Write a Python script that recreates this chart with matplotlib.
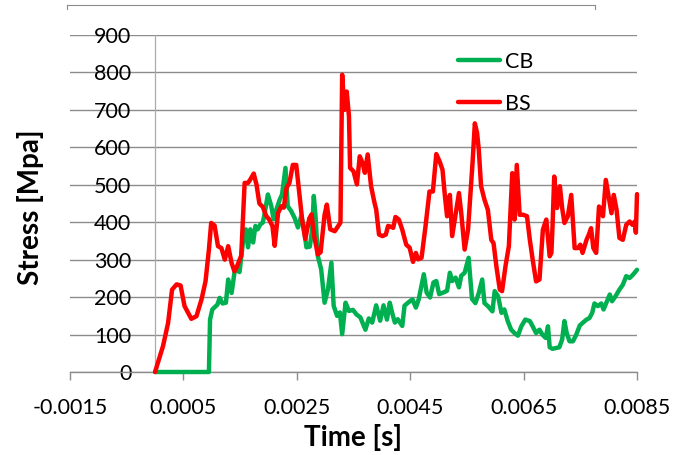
import matplotlib
matplotlib.use('Agg')
import matplotlib.pyplot as plt
from matplotlib.lines import Line2D
import numpy as np

# ---- data (time in ms, stress in MPa) ----
time_cb_ms = [0.00, 0.95, 0.97, 1.01, 1.10, 1.14, 1.19, 1.25, 1.29, 1.35, 1.41, 1.49, 1.55, 1.60,
              1.64, 1.68, 1.73, 1.77, 1.81, 1.86, 1.90, 1.93, 1.99, 2.05, 2.09, 2.14, 2.20, 2.24,
              2.30, 2.34, 2.40, 2.46, 2.52, 2.58, 2.62, 2.67, 2.73, 2.77, 2.80, 2.83, 2.87, 2.93,
              2.99, 3.05, 3.11, 3.15, 3.21, 3.26, 3.30, 3.36, 3.42, 3.49, 3.55, 3.62, 3.71, 3.77,
              3.83, 3.90, 3.97, 4.03, 4.09, 4.14, 4.18, 4.23, 4.28, 4.36, 4.40, 4.46, 4.54, 4.60,
              4.65, 4.74, 4.79, 4.85, 4.91, 4.96, 5.01, 5.08, 5.15, 5.20, 5.24, 5.30, 5.36, 5.40,
              5.46, 5.53, 5.59, 5.65, 5.71, 5.77, 5.81, 5.87, 5.95, 5.99, 6.05, 6.11, 6.16, 6.22,
              6.28, 6.34, 6.40, 6.46, 6.53, 6.61, 6.66, 6.72, 6.78, 6.83, 6.89, 6.93, 6.96, 7.01,
              7.07, 7.13, 7.18, 7.22, 7.26, 7.31, 7.37, 7.43, 7.49, 7.54, 7.61, 7.66, 7.71, 7.75,
              7.81, 7.87, 7.91, 7.97, 8.02, 8.06, 8.12, 8.19, 8.25, 8.31, 8.37, 8.43, 8.50]
stress_cb = [0, 0, 140, 167, 180, 198, 183, 185, 247, 211, 275, 267, 346, 381,
             333, 381, 346, 390, 381, 395, 399, 421, 474, 443, 408, 434, 461, 474,
             545, 443, 430, 412, 386, 417, 390, 333, 335, 380, 470, 416, 310, 274,
             185, 221, 292, 177, 150, 159, 101, 185, 163, 166, 154, 146, 113, 143,
             132, 178, 137, 178, 140, 185, 159, 132, 141, 123, 177, 185, 194, 172,
             194, 261, 212, 199, 239, 243, 208, 212, 217, 265, 243, 252, 226, 257,
             265, 305, 195, 184, 211, 247, 184, 176, 162, 216, 202, 158, 167, 136,
             113, 104, 97, 122, 140, 136, 122, 104, 113, 100, 91, 122, 66, 62,
             64, 66, 87, 136, 104, 82, 82, 100, 124, 131, 140, 144, 158, 183,
             176, 183, 167, 189, 207, 189, 202, 220, 233, 256, 251, 260, 273]

time_bs_ms = [0.00, 0.14, 0.23, 0.30, 0.38, 0.45, 0.52, 0.64, 0.73, 0.82, 0.89, 0.95, 0.99, 1.05,
              1.11, 1.17, 1.23, 1.29, 1.35, 1.40, 1.44, 1.52, 1.58, 1.64, 1.68, 1.74, 1.79, 1.84,
              1.90, 1.96, 2.01, 2.07, 2.11, 2.17, 2.23, 2.27, 2.32, 2.37, 2.43, 2.49, 2.55, 2.60,
              2.65, 2.72, 2.76, 2.81, 2.87, 2.92, 2.99, 3.03, 3.09, 3.17, 3.23, 3.27, 3.30, 3.34,
              3.38, 3.42, 3.44, 3.50, 3.56, 3.61, 3.66, 3.70, 3.75, 3.81, 3.87, 3.90, 3.95, 4.01,
              4.07, 4.11, 4.14, 4.20, 4.24, 4.30, 4.36, 4.43, 4.49, 4.55, 4.60, 4.64, 4.70, 4.77,
              4.84, 4.90, 4.96, 5.02, 5.07, 5.11, 5.15, 5.20, 5.24, 5.30, 5.36, 5.40, 5.46, 5.52,
              5.56, 5.60, 5.64, 5.68, 5.71, 5.75, 5.81, 5.87, 5.93, 5.97, 6.02, 6.08, 6.12, 6.18,
              6.24, 6.30, 6.34, 6.38, 6.43, 6.49, 6.56, 6.61, 6.66, 6.72, 6.78, 6.84, 6.90, 6.96,
              6.99, 7.01, 7.04, 7.09, 7.14, 7.18, 7.22, 7.28, 7.34, 7.40, 7.46, 7.50, 7.54, 7.61,
              7.65, 7.69, 7.73, 7.78, 7.83, 7.87, 7.90, 7.95, 8.01, 8.05, 8.09, 8.14, 8.19, 8.25,
              8.31, 8.37, 8.42, 8.46, 8.48, 8.50]
stress_bs = [0, 69, 131, 220, 234, 231, 176, 142, 149, 194, 242, 327, 398, 391,
             336, 331, 300, 336, 291, 269, 280, 311, 505, 505, 514, 530, 500, 450,
             441, 417, 408, 390, 337, 425, 443, 439, 492, 505, 553, 553, 470, 399,
             355, 410, 421, 360, 314, 320, 420, 447, 381, 376, 390, 399, 794, 700,
             749, 683, 545, 536, 501, 576, 558, 532, 581, 496, 452, 434, 367, 363,
             367, 390, 389, 385, 414, 407, 380, 340, 332, 294, 318, 301, 305, 389,
             482, 482, 582, 562, 540, 473, 416, 473, 363, 420, 478, 425, 327, 380,
             470, 560, 664, 638, 593, 496, 460, 433, 353, 344, 282, 220, 216, 282,
             336, 531, 407, 553, 420, 420, 416, 353, 300, 242, 247, 380, 407, 309,
             318, 389, 522, 438, 496, 438, 398, 416, 473, 331, 331, 340, 318, 353,
             367, 384, 331, 318, 442, 433, 416, 513, 460, 424, 473, 433, 358, 353,
             393, 402, 393, 402, 372, 475]

x_ticks = [-0.0015, 0.0005, 0.0025, 0.0045, 0.0065, 0.0085]
x_tick_labels = ['-0.0015', '0.0005', '0.0025', '0.0045', '0.0065', '0.0085']
y_ticks = [0, 100, 200, 300, 400, 500, 600, 700, 800, 900]

plt.rcParams['font.family'] = ['Lato', 'DejaVu Sans']

W, H = 681, 455
fig = plt.figure(figsize=(W / 100, H / 100), dpi=100)
ax = fig.add_axes([70 / W, (H - 372) / H, 567 / W, 337 / H])

grid_col = '#8C8C8C'
ax.plot(np.array(time_cb_ms) * 1e-3, stress_cb, color='#00B050', lw=3.2,
        label='CB', clip_on=False, solid_joinstyle='round', solid_capstyle='round', zorder=3)
ax.plot(np.array(time_bs_ms) * 1e-3, stress_bs, color='#FF0000', lw=3.2,
        label='BS', clip_on=False, solid_joinstyle='round', solid_capstyle='round', zorder=4)

ax.set_xlim(-0.0015, 0.0085)
ax.set_ylim(0, 900)
ax.set_xticks(x_ticks, x_tick_labels)
ax.set_yticks(y_ticks)
ax.yaxis.grid(True, color=grid_col, lw=1.0)
ax.set_axisbelow(True)

for s in ['top', 'right']:
    ax.spines[s].set_visible(False)
ax.spines['left'].set_position(('data', 0))
ax.spines['left'].set_color('#ABABAB')
ax.spines['left'].set_linewidth(0.9)
ax.spines['bottom'].set_color(grid_col)
ax.spines['bottom'].set_linewidth(1.0)

ax.tick_params(axis='y', length=0, pad=17, labelsize=15.5)
ax.tick_params(axis='x', length=6, width=1, color=grid_col, direction='out',
               pad=13, labelsize=15.5)

ax.set_xlabel('Time [s]', fontsize=20, fontweight='bold')
ax.xaxis.set_label_coords(0.5, -0.193)
ax.xaxis.label.set_verticalalignment('center')
ax.set_ylabel('Stress [Mpa]', fontsize=20, fontweight='bold')
ax.yaxis.set_label_coords(-0.0705, 0.49)
ax.yaxis.label.set_verticalalignment('center')

ax.legend(loc='upper left', bbox_to_anchor=(458 / W, 1 - 52 / H),
          bbox_transform=fig.transFigure, frameon=False, fontsize=15.5,
          borderpad=0, borderaxespad=0, handlelength=1.95, handletextpad=0.25,
          labelspacing=1.0)

# partial chart-area border at top
y0 = 1 - 4.5 / H
y1 = 1 - 9 / H
fig.add_artist(Line2D([67 / W, 595 / W], [y0, y0], transform=fig.transFigure, color=grid_col, lw=0.8))
fig.add_artist(Line2D([67 / W, 67 / W], [y0, y1], transform=fig.transFigure, color=grid_col, lw=0.8))
fig.add_artist(Line2D([595 / W, 595 / W], [y0, y1], transform=fig.transFigure, color=grid_col, lw=0.8))

fig.savefig('out.png', dpi=100)
